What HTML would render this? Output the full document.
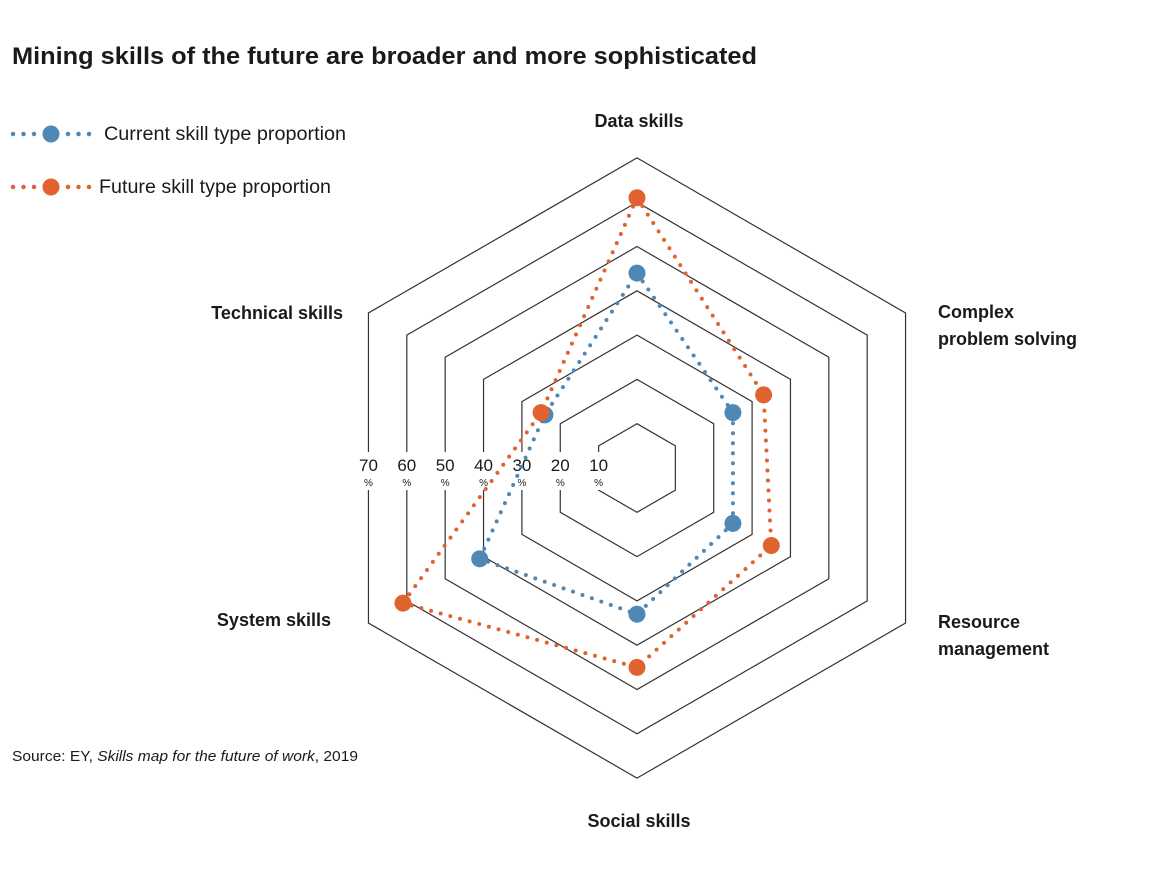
<!DOCTYPE html>
<html><head><meta charset="utf-8"><style>
html,body{margin:0;padding:0;background:#fff;overflow:hidden;}
svg{display:block;font-family:"Liberation Sans",sans-serif;}
</style></head><body>
<svg id="chart" width="1166" height="882" viewBox="0 0 1166 882" xmlns="http://www.w3.org/2000/svg">
<text x="12" y="64" font-size="24" font-weight="bold" fill="#1a1a1a" textLength="745" lengthAdjust="spacingAndGlyphs">Mining skills of the future are broader and more sophisticated</text>
<g>
<line x1="13" y1="134" x2="44" y2="134" stroke="#4f87b5" stroke-width="4.5" stroke-linecap="round" stroke-dasharray="0 10.5"/>
<line x1="68" y1="134" x2="90" y2="134" stroke="#4f87b5" stroke-width="4.5" stroke-linecap="round" stroke-dasharray="0 10.5"/>
<circle cx="51" cy="134" r="8.5" fill="#4f87b5"/>
<text x="104" y="140" font-size="19" fill="#1a1a1a" textLength="242" lengthAdjust="spacingAndGlyphs">Current skill type proportion</text>
</g>
<g>
<line x1="13" y1="187" x2="44" y2="187" stroke="#e0622e" stroke-width="4.5" stroke-linecap="round" stroke-dasharray="0 10.5"/>
<line x1="68" y1="187" x2="90" y2="187" stroke="#e0622e" stroke-width="4.5" stroke-linecap="round" stroke-dasharray="0 10.5"/>
<circle cx="51" cy="187" r="8.5" fill="#e0622e"/>
<text x="99" y="193" font-size="19" fill="#1a1a1a" textLength="232" lengthAdjust="spacingAndGlyphs">Future skill type proportion</text>
</g>
<text x="12" y="761" font-size="15" fill="#1a1a1a" textLength="346" lengthAdjust="spacingAndGlyphs">Source: EY, <tspan font-style="italic">Skills map for the future of work</tspan>, 2019</text>
<g id="grid"></g><g id="ticks"></g><g id="series"></g><g id="axis-labels"></g>
</svg>
<script>
const categories = ["Data skills","Complex problem solving","Resource management","Social skills","System skills","Technical skills"];
const currentValues = [44, 25, 25, 33, 41, 24];
const futureValues = [61, 33, 35, 45, 61, 25];
const ringValues = [10,20,30,40,50,60,70];
const tickLabels = ["10","20","30","40","50","60","70"];

const NS = "http://www.w3.org/2000/svg";
const cx = 637, cy = 468, rPer = 4.43;
function rScale(v){ return v * rPer; }
function angle(i){ return -Math.PI/2 + i * Math.PI/3; }
function pt(i, v){ const a = angle(i), r = rScale(v); return [cx + r*Math.cos(a), cy + r*Math.sin(a)]; }
function mk(tag, attrs, parent){ const e = document.createElementNS(NS, tag); for (const k in attrs) e.setAttribute(k, attrs[k]); parent.appendChild(e); return e; }

const grid = document.getElementById('grid');
ringValues.forEach(v => {
  const pts = categories.map((c,i)=>pt(i,v).join(',')).join(' ');
  const p = mk('polygon', {points: pts, fill: 'none', stroke: '#333', 'stroke-width': 1.2}, grid);
  
  
});

const ticks = document.getElementById('ticks');
ringValues.forEach((v, k) => {
  const x = cx - rScale(v) * Math.cos(Math.PI/6);
  const g = mk('g', {}, ticks);
  
  
  mk('rect', {x: x-13, y: cy-16, width: 26, height: 38, fill: '#fff'}, g);
  const t = mk('text', {x: x, y: cy+3, 'font-size': 17, 'text-anchor': 'middle', fill: '#1a1a1a'}, g);
  t.textContent = tickLabels[k];
  const p = mk('text', {x: x, y: cy+18, 'font-size': 10, 'text-anchor': 'middle', fill: '#1a1a1a'}, g);
  p.textContent = '%';
});

const series = document.getElementById('series');
function drawSeries(vals, color, name){
  const g = mk('g', {}, series);
  
  
  const pts = vals.map((v,i)=>pt(i,v).join(',')).join(' ');
  const poly = mk('polygon', {points: pts, fill: 'none', stroke: color, 'stroke-width': 4, 'stroke-linecap': 'round', 'stroke-dasharray': '0 10'}, g);
  
  
  vals.forEach((v,i) => {
    const [x,y] = pt(i,v);
    const c = mk('circle', {cx: x, cy: y, r: 8.5, fill: color}, g);
    
    
  });
}
drawSeries(currentValues, '#4f87b5', 'current');
drawSeries(futureValues, '#e0622e', 'future');

const labels = document.getElementById('axis-labels');
const labelDefs = [
  {x: 639, y: 127, a: 'middle', lines: ["Data skills"]},
  {x: 938, y: 318, a: 'start', lines: ["Complex", "problem solving"]},
  {x: 938, y: 628, a: 'start', lines: ["Resource", "management"]},
  {x: 639, y: 827, a: 'middle', lines: ["Social skills"]},
  {x: 331, y: 626, a: 'end', lines: ["System skills"]},
  {x: 343, y: 319, a: 'end', lines: ["Technical skills"]}
];
categories.forEach((c, i) => {
  const d = labelDefs[i];
  const t = mk('text', {x: d.x, y: d.y, 'font-size': 18, 'font-weight': 'bold', 'text-anchor': d.a, fill: '#1a1a1a'}, labels);
  
  
  d.lines.forEach((ln, k) => {
    const s = mk('tspan', {x: d.x, dy: k ? 27 : 0}, t);
    s.textContent = ln;
  });
});
</script>
</body></html>
